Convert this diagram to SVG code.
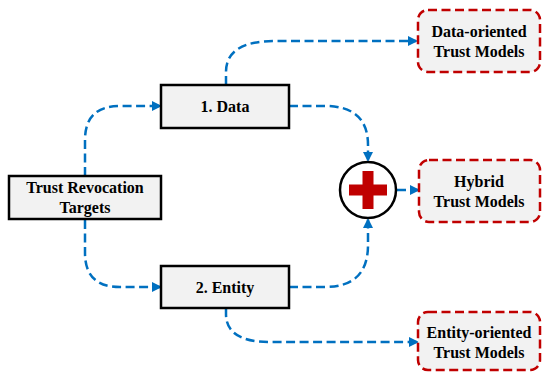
<svg xmlns="http://www.w3.org/2000/svg" width="543" height="373" viewBox="0 0 543 373">
<style>
.box{fill:#F2F2F2;stroke:#000;stroke-width:2.5}
.rbox{fill:#F2F2F2;stroke:#C00000;stroke-width:2.5;stroke-dasharray:9 4.5}
.t{font-family:"Liberation Serif","Times New Roman",serif;font-weight:bold;font-size:16px;fill:#000;text-anchor:middle}
.c{fill:none;stroke:#0070C0;stroke-width:2.5;stroke-dasharray:9 4.5;marker-end:url(#ah)}
</style>
<defs>
<marker id="ah" markerWidth="10" markerHeight="10" refX="8" refY="5" orient="auto" markerUnits="userSpaceOnUse">
<path d="M0,0 L10,5 L0,10 Z" fill="#0070C0"/>
</marker>
</defs>
<g id="connectors">
<path class="c" d="M85,176 L85,140 Q85,106 120,106 L160,106"/>
<path class="c" d="M85,220 L85,253 Q85,287 120,287 L160,287"/>
<path class="c" d="M226,85 L226,72 Q226,41 275,41 L416,41"/>
<path class="c" d="M289,106 L325,106 Q368,106 368,145 L368,160"/>
<path class="c" d="M289,287 L325,287 Q368,287 368,245 L368,220"/>
<path class="c" d="M226,308 L226,314 Q226,342 270,342 L417,342"/>
<path class="c" d="M397,190 L418,190"/>
</g>
<g id="trust-revocation-targets">
<rect class="box" x="9" y="176" width="152" height="43"/>
<text class="t" x="85" y="193">Trust Revocation</text>
<text class="t" x="85" y="213">Targets</text>
</g>
<g id="data">
<rect class="box" x="161" y="85" width="128" height="43"/>
<text class="t" x="225" y="112">1. Data</text>
</g>
<g id="entity">
<rect class="box" x="161" y="266" width="128" height="42"/>
<text class="t" x="225" y="293">2. Entity</text>
</g>
<g id="combine">
<circle cx="368" cy="190" r="28" fill="#fff" stroke="#000" stroke-width="2.5"/>
<rect x="349" y="184.5" width="38" height="11" fill="#C00000"/>
<rect x="362.5" y="171" width="11" height="38" fill="#C00000"/>
</g>
<g id="data-oriented">
<rect class="rbox" x="418" y="10" width="122" height="62" rx="10"/>
<text class="t" x="479" y="37">Data-oriented</text>
<text class="t" x="479" y="57">Trust Models</text>
</g>
<g id="hybrid">
<rect class="rbox" x="419" y="160" width="121" height="62" rx="10"/>
<text class="t" x="479" y="187">Hybrid</text>
<text class="t" x="479" y="207">Trust Models</text>
</g>
<g id="entity-oriented">
<rect class="rbox" x="418" y="312" width="122" height="58" rx="10"/>
<text class="t" x="479" y="338">Entity-oriented</text>
<text class="t" x="479" y="358">Trust Models</text>
</g>
</svg>
